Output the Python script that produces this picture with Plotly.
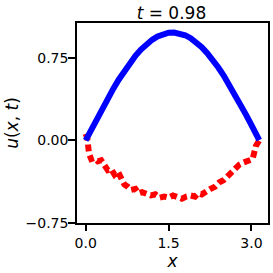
import plotly.graph_objects as go

title_text = "<i>t</i> = 0.98"
x_label = "<i>x</i>"
y_label = "<i>u</i>(<i>x</i>, <i>t</i>)"

x_ticks = [0.0, 1.5, 3.0]
x_ticklabels = ["0.0", "1.5", "3.0"]
y_ticks = [-0.75, 0.0, 0.75]
y_ticklabels = ["\u22120.75", "0.00", "0.75"]

# exact solution (blue)
x_exact = [0.0, 0.1, 0.2, 0.3, 0.4, 0.5, 0.6, 0.7, 0.8, 0.9, 1.0, 1.1, 1.2, 1.3,
           1.4, 1.5, 1.6, 1.7, 1.8, 1.9, 2.0, 2.1, 2.2, 2.3, 2.4, 2.5, 2.6, 2.7,
           2.8, 2.9, 3.0, 3.1, 3.14]
u_exact = [0.0, 0.098, 0.195, 0.290, 0.382, 0.470, 0.553, 0.631, 0.703, 0.768,
           0.825, 0.873, 0.913, 0.944, 0.966, 0.978, 0.980, 0.972, 0.955, 0.928,
           0.891, 0.846, 0.792, 0.731, 0.662, 0.587, 0.505, 0.419, 0.328, 0.234,
           0.138, 0.041, 0.002]

# prediction (red, dashed)
x_pred = [0.00, 0.03, 0.06, 0.10, 0.16, 0.22, 0.28, 0.34, 0.40, 0.46, 0.52, 0.58,
          0.64, 0.70, 0.76, 0.82, 0.90, 0.96, 1.02, 1.10, 1.18, 1.26, 1.34, 1.42,
          1.50, 1.58, 1.66, 1.74, 1.82, 1.90, 1.98, 2.04, 2.10, 2.18, 2.26, 2.34,
          2.42, 2.50, 2.58, 2.64, 2.72, 2.78, 2.86, 2.94, 3.02, 3.08, 3.14]
u_pred = [0.06, 0.02, -0.12, -0.17, -0.16, -0.19, -0.18, -0.24, -0.27, -0.26,
          -0.31, -0.28, -0.33, -0.40, -0.42, -0.45, -0.44, -0.48, -0.47, -0.49,
          -0.50, -0.49, -0.52, -0.51, -0.52, -0.50, -0.52, -0.53, -0.51, -0.50,
          -0.51, -0.48, -0.49, -0.46, -0.44, -0.42, -0.38, -0.36, -0.32, -0.29,
          -0.26, -0.22, -0.20, -0.19, -0.17, -0.05, 0.0]

fig = go.Figure()
fig.add_trace(go.Scatter(x=x_pred, y=u_pred, mode="lines",
                         line=dict(color="#ff0000", width=6, dash="7px,4px"),
                         showlegend=False))
fig.add_trace(go.Scatter(x=x_exact, y=u_exact, mode="lines",
                         line=dict(color="#0000ff", width=6),
                         showlegend=False))

font_family = "DejaVu Sans"
fig.update_layout(
    width=273, height=273,
    margin=dict(l=77, r=5, t=23, b=50),
    paper_bgcolor="white", plot_bgcolor="white",
    font=dict(family=font_family, color="black", size=14),
    title=dict(text=title_text, x=0.628, xanchor="center", y=0.952, yanchor="middle",
               font=dict(size=17, family=font_family, color="black")),
)
fig.update_xaxes(range=[-0.157, 3.299], tickvals=x_ticks, ticktext=x_ticklabels,
                 showgrid=False, zeroline=False, showline=True, linecolor="black",
                 linewidth=1.5, mirror=True, ticks="outside", ticklen=6, tickwidth=1.5,
                 tickcolor="black", tickfont=dict(size=14), automargin=False,
                 title=dict(text=x_label, font=dict(size=17), standoff=2))
fig.update_yaxes(range=[-0.75, 1.066], tickvals=y_ticks, ticktext=y_ticklabels,
                 showgrid=False, zeroline=False, showline=True, linecolor="black",
                 linewidth=1.5, mirror=True, ticks="outside", ticklen=7, tickwidth=1.5,
                 tickcolor="black", tickfont=dict(size=14), automargin=False,
                 ticklabelstandoff=-3,
                 title=dict(text=y_label, font=dict(size=17), standoff=3))

fig.write_html("out.html", config={"displayModeBar": False},
               post_script="document.body.style.margin='0';")
